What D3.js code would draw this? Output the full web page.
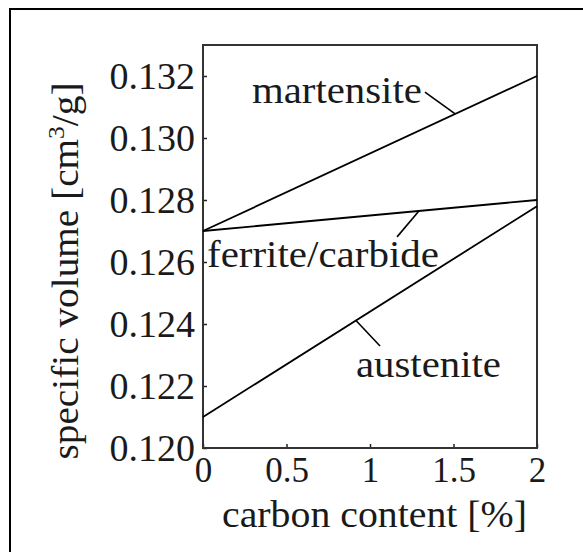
<!DOCTYPE html>
<html>
<head>
<meta charset="utf-8">
<script src="https://cdn.jsdelivr.net/npm/d3@7"></script>
<style>
  html, body { margin: 0; padding: 0; background: #fff; }
  svg { display: block; }
  text { font-family: "Liberation Serif", "FreeSerif", serif; fill: #1a1a1a; }
</style>
</head>
<body>
<svg id="chart" width="583" height="552"></svg>
<script>
// ---- data ----
const carbon = [0, 2];
const martensite = [0.127, 0.132];
const ferriteCarbide = [0.127, 0.128];
const austenite = [0.121, 0.1278];
const xTicks = [0, 0.5, 1, 1.5, 2];
const xTickLabels = ["0", "0.5", "1", "1.5", "2"];
const yTicks = [0.120, 0.122, 0.124, 0.126, 0.128, 0.130, 0.132];
const yTickLabels = ["0.120", "0.122", "0.124", "0.126", "0.128", "0.130", "0.132"];
const seriesNames = ["martensite", "ferrite/carbide", "austenite"];

// ---- layout (positions in data units) ----
const labelLayout = [
  { series: 0, tx: 0.293, ty: 0.13113, len: 170, lx: 1.329, ly: 0.13148, px: 1.51 },
  { series: 1, tx: 0.024, ty: 0.12584, len: 232, lx: 1.162, ly: 0.12681, px: 1.293 },
  { series: 2, tx: 0.916, ty: 0.12229, len: 145, lx: 1.060, ly: 0.12329, px: 0.916 }
];

(function () {
const svg = d3.select("#chart");
const pL = 203, pR = 537, pT = 45, pB = 448;
const serif = '"Liberation Serif", "FreeSerif", serif';

const x = d3.scaleLinear().domain([0, 2]).range([pL, pR]);
const y = d3.scaleLinear().domain([0.120, 0.133]).range([pB, pT]);

// outer border (cropped figure frame)
svg.append("rect")
  .attr("x", 10).attr("y", 9).attr("width", 640).attr("height", 640)
  .attr("fill", "none").attr("stroke", "#000").attr("stroke-width", 2);

// axes
const xAxis = d3.axisBottom(x).tickValues(xTicks)
  .tickFormat((d, i) => xTickLabels[i]).tickSizeInner(-4).tickSizeOuter(0).tickPadding(9);
const yAxis = d3.axisLeft(y).tickValues(yTicks)
  .tickFormat((d, i) => yTickLabels[i]).tickSizeInner(-4).tickSizeOuter(0).tickPadding(8);

const gx = svg.append("g").attr("transform", `translate(0,${pB})`).call(xAxis);
const gy = svg.append("g").attr("transform", `translate(${pL},0)`).call(yAxis);
[gx, gy].forEach(g => {
  g.attr("font-family", null);
  g.select(".domain").remove();
  g.selectAll(".tick line").attr("stroke", "#222").attr("stroke-width", 1.5);
  g.selectAll(".tick text").attr("fill", "#1a1a1a").style("font-family", serif);
});
gx.selectAll(".tick text").style("font-size", "35px");
gy.selectAll(".tick text").style("font-size", "38px");

// plot frame
svg.append("rect")
  .attr("x", pL).attr("y", pT).attr("width", pR - pL).attr("height", pB - pT)
  .attr("fill", "none").attr("stroke", "#333").attr("stroke-width", 2);

// series lines
const allSeries = [martensite, ferriteCarbide, austenite];
const line = d3.line().x((d, i) => x(carbon[i])).y(d => y(d));
svg.selectAll("path.series").data(allSeries).join("path")
  .attr("class", "series")
  .attr("d", d => line(d))
  .attr("fill", "none").attr("stroke", "#000").attr("stroke-width", 1.8);

// annotations
const interp = (s, xv) => s[0] + (s[1] - s[0]) * (xv - carbon[0]) / (carbon[1] - carbon[0]);
labelLayout.forEach(a => {
  const s = allSeries[a.series];
  svg.append("line")
    .attr("x1", x(a.lx)).attr("y1", y(a.ly))
    .attr("x2", x(a.px)).attr("y2", y(interp(s, a.px)))
    .attr("stroke", "#000").attr("stroke-width", 1.6);
  svg.append("text")
    .attr("x", x(a.tx)).attr("y", y(a.ty))
    .attr("textLength", a.len).attr("lengthAdjust", "spacingAndGlyphs")
    .style("font-family", serif).style("font-size", "37px")
    .text(seriesNames[a.series]);
});

// axis titles
svg.append("text")
  .attr("x", 222).attr("y", 527)
  .attr("textLength", 305).attr("lengthAdjust", "spacingAndGlyphs")
  .style("font-family", serif).style("font-size", "37px")
  .text("carbon content [%]");

const yl = svg.append("text")
  .attr("transform", "translate(78,271) rotate(-90)")
  .attr("text-anchor", "middle")
  .attr("textLength", 377).attr("lengthAdjust", "spacingAndGlyphs")
  .style("font-family", serif).style("font-size", "37px");
yl.append("tspan").text("specific volume [cm");
yl.append("tspan").attr("dy", -14).style("font-size", "24px").text("3");
yl.append("tspan").attr("dy", 14).text("/g]");
})();
</script>
</body>
</html>
